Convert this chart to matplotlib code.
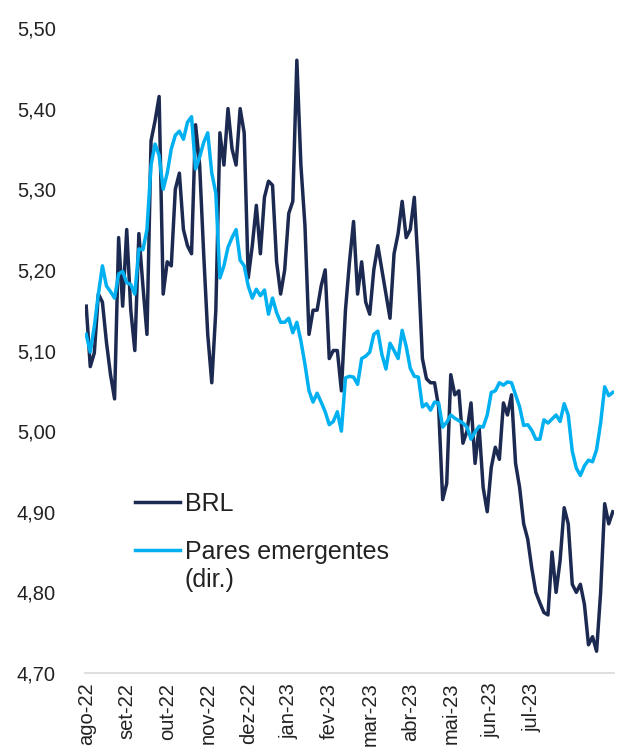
import numpy as np
import matplotlib
matplotlib.use("Agg")
import matplotlib.pyplot as plt
from matplotlib.ticker import FuncFormatter

plt.rcParams['font.family'] = ['Liberation Sans', 'DejaVu Sans']

# month labels, one every 10 samples
months = ['ago-22', 'set-22', 'out-22', 'nov-22', 'dez-22', 'jan-23',
          'fev-23', 'mar-23', 'abr-23', 'mai-23', 'jun-23', 'jul-23']

brl = [5.155, 5.08, 5.097, 5.17, 5.16, 5.11, 5.07, 5.04, 5.24, 5.155,
       5.25, 5.15, 5.10, 5.245, 5.18, 5.12, 5.36, 5.385, 5.415, 5.17,
       5.21, 5.205, 5.30, 5.32, 5.25, 5.23, 5.22, 5.38, 5.33, 5.22,
       5.12, 5.06, 5.15, 5.37, 5.33, 5.40, 5.35, 5.33, 5.40, 5.37,
       5.19, 5.23, 5.28, 5.22, 5.29, 5.31, 5.305, 5.21, 5.17, 5.20,
       5.27, 5.285, 5.46, 5.33, 5.255, 5.12, 5.15, 5.15, 5.18, 5.20,
       5.09, 5.10, 5.10, 5.05, 5.15, 5.21, 5.26, 5.17, 5.21, 5.16,
       5.145, 5.20, 5.23, 5.20, 5.17, 5.14, 5.22, 5.245, 5.285, 5.24,
       5.25, 5.29, 5.20, 5.09, 5.065, 5.06, 5.06, 5.03, 4.915, 4.935,
       5.07, 5.045, 5.05, 4.985, 5.00, 5.035, 4.96, 5.005, 4.93, 4.90,
       4.955, 4.98, 4.965, 5.035, 5.02, 5.045, 4.96, 4.93, 4.885, 4.866,
       4.83, 4.80, 4.787, 4.775, 4.772, 4.85, 4.80, 4.84, 4.905, 4.885,
       4.81, 4.80, 4.81, 4.785, 4.735, 4.745, 4.727, 4.80, 4.91, 4.885,
       4.90]

pares = [5.12, 5.098, 5.13, 5.17, 5.205, 5.18, 5.173, 5.165, 5.195, 5.198,
         5.184, 5.182, 5.17, 5.226, 5.225, 5.25, 5.33, 5.356, 5.342, 5.30,
         5.32, 5.35, 5.367, 5.372, 5.362, 5.383, 5.39, 5.325, 5.34, 5.358,
         5.37, 5.32, 5.295, 5.19, 5.205, 5.228, 5.24, 5.25, 5.212, 5.205,
         5.18, 5.165, 5.176, 5.168, 5.175, 5.145, 5.165, 5.147, 5.135, 5.135,
         5.14, 5.122, 5.135, 5.112, 5.083, 5.05, 5.036, 5.047, 5.036, 5.024,
         5.008, 5.012, 5.024, 5.00, 5.066, 5.068, 5.067, 5.058, 5.09, 5.093,
         5.098, 5.12, 5.124, 5.095, 5.077, 5.109, 5.10, 5.09, 5.125, 5.105,
         5.078, 5.068, 5.067, 5.03, 5.034, 5.026, 5.036, 5.035, 5.005, 5.011,
         5.02, 5.016, 5.013, 5.01, 5.005, 4.99, 4.999, 5.006, 5.005, 5.02,
         5.048, 5.05, 5.06, 5.057, 5.061, 5.06, 5.045, 5.03, 5.007, 5.008,
         5.001, 4.99, 4.99, 5.014, 5.01, 5.015, 5.02, 5.012, 5.034, 5.02,
         4.975, 4.954, 4.945, 4.957, 4.964, 4.962, 4.977, 5.01, 5.055, 5.044,
         5.048]

x = np.arange(len(brl))

fig = plt.figure(figsize=(6.2, 7.54), dpi=100)
ax = fig.add_axes([85 / 620, 1 - 673 / 754, 529 / 620, 645 / 754])

ax.plot(x, brl, color='#1c2951', lw=2.5, label='BRL', solid_joinstyle='round')
ax.plot(x, pares, color='#00b0f0', lw=2.5, label='Pares emergentes',
        solid_joinstyle='round')

ax.set_ylim(4.70, 5.50)
ax.set_yticks(np.arange(4.70, 5.501, 0.10))
ax.yaxis.set_major_formatter(FuncFormatter(lambda v, p: f'{v:.2f}'.replace('.', ',')))
ax.set_xlim(-0.3, len(brl) - 0.7)
ax.set_xticks(np.arange(len(months)) * 10)
ax.set_xticklabels(months, rotation=90)

for s in ['top', 'right', 'left']:
    ax.spines[s].set_visible(False)
ax.spines['bottom'].set_color('#d9d9d9')
ax.spines['bottom'].set_linewidth(1.2)
ax.tick_params(axis='y', length=0, pad=21, labelsize=14.5, labelcolor='#222222')
ax.tick_params(axis='x', length=0, pad=7, labelsize=14.5, labelcolor='#222222')

leg = ax.legend(loc='upper left', bbox_to_anchor=(0.0945, 0.281), frameon=False,
                fontsize=18, handlelength=1.8, handletextpad=0.2,
                labelspacing=0.95, borderpad=0, borderaxespad=0)
for t in leg.get_texts():
    t.set_color('#222222')

# second line of the emerging-pairs label, aligned under its first line
fig.canvas.draw()
bb = leg.get_texts()[1].get_window_extent()
fig.text(bb.x0 / fig.bbox.width, (bb.y0 + bb.y1) / 2 / fig.bbox.height - 28 / 754,
         '(dir.)', fontsize=18, color='#222222', va='center', ha='left')

fig.savefig('out.png', dpi=100)
